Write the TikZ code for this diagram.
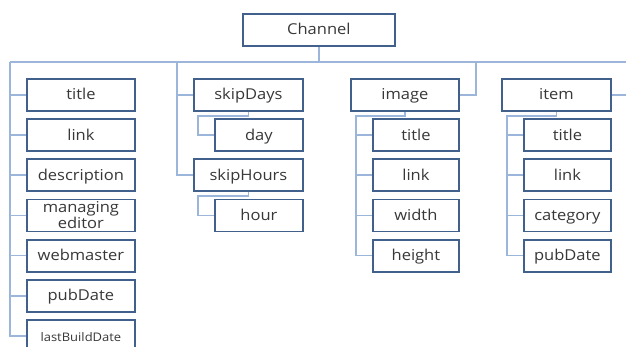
\documentclass[tikz,border=0pt]{standalone}
\usepackage{fontspec}
\setmainfont{Open Sans}[FakeStretch=1.1]
\definecolor{boxc}{HTML}{41618C}
\definecolor{linec}{HTML}{9BB6DA}
\definecolor{txt}{HTML}{383838}
\tikzset{
  box/.style={draw=boxc, line width=1.8pt, fill=white, text=txt,
    font=\fontsize{15}{14}\selectfont, inner sep=0pt, anchor=north west,
    align=center, minimum height=32pt, text height=13pt, text depth=3pt},
  wide/.style={box, minimum width=108pt},
  narrow/.style={box, minimum width=87pt},
  link/.style={draw=linec, line width=1.6pt}
}
\begin{document}
\begin{tikzpicture}[x=1pt,y=-1pt]
\useasboundingbox (0,0) rectangle (626,347);
\clip (0,0) rectangle (626,347);

% root
\node[box, minimum width=152pt] (ch) at (242,13) {Channel};

% first column: channel elements
\node[wide] (c1) at (26,78)    {title};
\node[wide] (c2) at (26,118.2) {link};
\node[wide] (c3) at (26,158.4) {description};
\node[wide, text height=, text depth=] (c4) at (26,198.6) {managing\\editor};
\node[wide] (c5) at (26,238.8) {webmaster};
\node[wide] (c6) at (26,279)   {pubDate};
\node[wide, font=\fontsize{11.8}{14}\selectfont] (c7) at (26,319.2) {lastBuildDate};

% second column: skipDays / skipHours
\node[narrow, minimum width=109pt] (sd) at (193,78)    {skipDays};
\node[narrow, minimum width=88pt] (day) at (214,118.2) {day};
\node[narrow, minimum width=109pt] (sh) at (193,158.4) {skipHours};
\node[narrow, minimum width=88pt] (hr) at (214,198.6) {hour};

% third column: image
\node[wide] (img) at (350,78) {image};
\node[narrow, minimum width=86pt] (i1) at (372,118.2) {title};
\node[narrow, minimum width=86pt] (i2) at (372,158.4) {link};
\node[narrow, minimum width=86pt] (i3) at (372,198.6) {width};
\node[narrow, minimum width=86pt] (i4) at (372,238.8) {height};

% fourth column: item
\node[wide, minimum width=109pt] (it) at (501,78) {item};
\node[narrow] (t1) at (523,118.2) {title};
\node[narrow] (t2) at (523,158.4) {link};
\node[narrow] (t3) at (523,198.6) {category};
\node[narrow] (t4) at (523,238.8) {pubDate};

% bus and attachment points
\coordinate (busL) at (10,62);
\coordinate (busR) at (626,62);
\coordinate (b2) at (177,62);
\coordinate (b3) at (476,62);

\draw[link] (busL) -- (busR);
\draw[link] (ch.south) -- (ch.south |- busL);

% first column trunk
\draw[link] (busL) |- (c7.west);
\foreach \n in {c1,c2,c3,c4,c5,c6}
  \draw[link] (busL |- \n.west) -- (\n.west);

% second column
\draw[link] (b2) |- (sh.west);
\draw[link] (b2 |- sd.west) -- (sd.west);
\draw[link] (sd.south) -- ++(0,4) -| ([xshift=-16pt]day.west) -- (day.west);
\draw[link] (sh.south) -- ++(0,4) -| ([xshift=-16pt]hr.west) -- (hr.west);

% third column
\draw[link] (img.east) -| (b3);
\draw[link] (img.south) -- ++(0,4) -| ([xshift=-16pt]i4.west) -- (i4.west);
\foreach \n in {i1,i2,i3}
  \draw[link] ([xshift=-16pt]\n.west) -- (\n.west);

% fourth column
\draw[link] (it.east) -- (it.east -| busR);
\draw[link] (it.south) -- ++(0,4) -| ([xshift=-16pt]t4.west) -- (t4.west);
\foreach \n in {t1,t2,t3}
  \draw[link] ([xshift=-16pt]\n.west) -- (\n.west);
\end{tikzpicture}
\end{document}
